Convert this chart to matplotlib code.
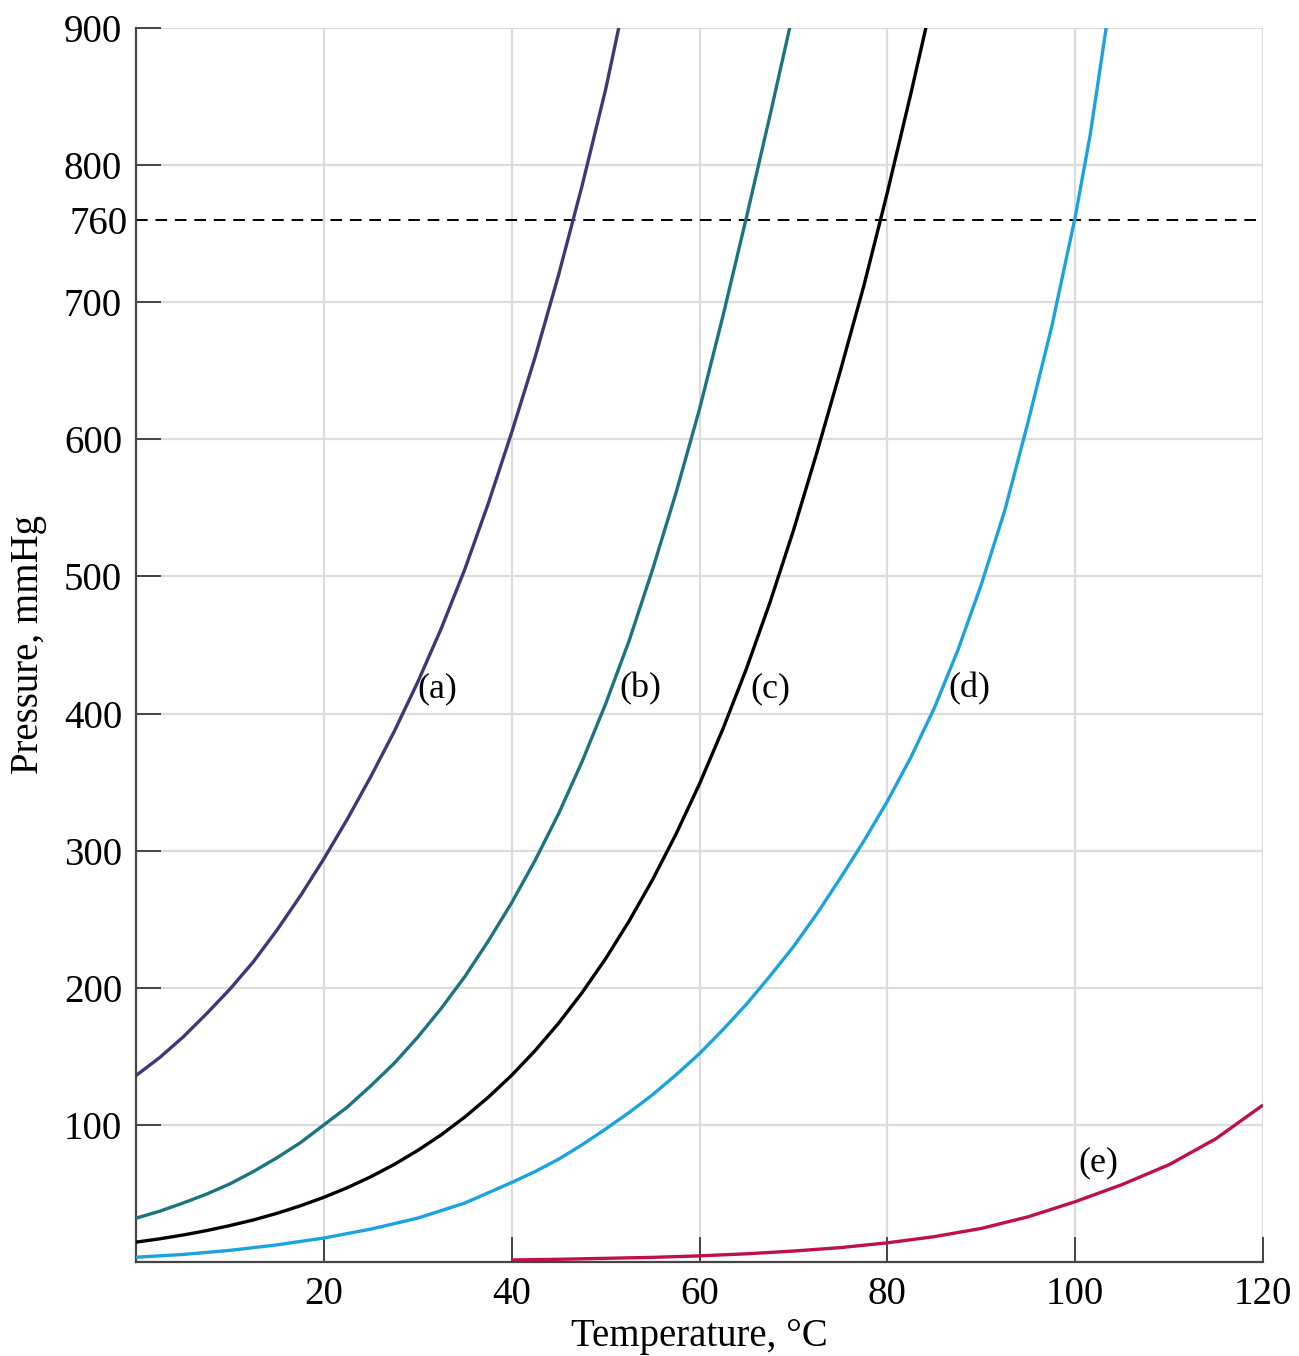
"""Vapor pressure curves (a)-(e), redrawn from the textbook figure."""
import matplotlib
matplotlib.use("Agg")
import matplotlib.pyplot as plt

# --- data (T in degC, P in mmHg) ---
temp_a = [0, 2.5, 5, 7.5, 10, 12.5, 15, 17.5, 20, 22.5, 25, 27.5, 30, 32.5,
          35, 37.5, 40, 42.5, 45, 47.5, 50, 51.4]
pres_a = [136, 149, 164, 181, 199, 219, 242, 267, 294, 323, 354, 387, 423,
          462, 505, 553, 605, 660, 720, 785, 855, 900]

temp_b = [0, 2.5, 5, 7.5, 10, 12.5, 15, 17.5, 20, 22.5, 25, 27.5, 30, 32.5,
          35, 37.5, 40, 42.5, 45, 47.5, 50, 52.5, 55, 57.5, 60, 62.5, 65,
          67.5, 69.6]
pres_b = [32, 37, 43, 49.5, 57, 66, 76, 87, 100, 113, 128.5, 145, 164, 185,
          208, 234, 262, 293, 327, 365, 407, 453, 505, 561, 622, 690, 762,
          836, 900]

temp_c = [0, 2.5, 5, 7.5, 10, 12.5, 15, 17.5, 20, 22.5, 25, 27.5, 30, 32.5,
          35, 37.5, 40, 42.5, 45, 47.5, 50, 52.5, 55, 57.5, 60, 62.5, 65,
          67.5, 70, 72.5, 75, 77.5, 80, 82.5, 84.1]
pres_c = [14.5, 16.9, 19.7, 22.9, 26.6, 30.7, 35.5, 41, 47.2, 54.2, 62.2,
          71.2, 81.4, 92.8, 105.7, 120.1, 136.2, 154.2, 174.2, 196.5, 221.2,
          248.6, 278.8, 312.1, 348.7, 388.9, 432.8, 481, 533.5, 590.4, 650,
          712, 780, 852, 900]

temp_d = [0, 5, 10, 15, 20, 25, 30, 35, 40, 42.5, 45, 47.5, 50, 52.5, 55,
          57.5, 60, 62.5, 65, 67.5, 70, 72.5, 75, 77.5, 80, 82.5, 85, 87.5,
          90, 92.5, 95, 97.5, 100, 101.6, 103.3]
pres_d = [3.5, 5.5, 8.5, 12.5, 17.5, 24, 32, 43, 58, 66, 75, 85.5, 97, 109,
          122, 136.5, 152, 169.5, 188, 208.5, 230, 254, 280, 307, 336, 368,
          404, 446, 494, 548, 613, 682, 762, 822, 900]

temp_e = [40, 45, 50, 55, 60, 65, 70, 75, 80, 85, 90, 95, 100, 105, 110, 115,
          120]
pres_e = [1.5, 2, 2.7, 3.4, 4.5, 6, 8, 10.5, 14, 18.5, 24.5, 33, 44, 56.5, 71,
          90, 114.5]

labels = ["(a)", "(b)", "(c)", "(d)", "(e)"]
label_x = [30, 51.5, 65.4, 86.5, 100.3]
label_y = [418, 418, 418, 418, 72]
colors = ["#3d3878", "#1b7480", "#000000", "#1aa3df", "#c0104a"]

x_ticks = [20, 40, 60, 80, 100, 120]
y_ticks = [100, 200, 300, 400, 500, 600, 700, 800, 900]
p_atm = 760

plt.rcParams["font.family"] = ["Liberation Serif", "DejaVu Serif"]

fig = plt.figure(figsize=(12.99, 13.56), dpi=100)
ax = fig.add_axes([0.1047, 0.0693, 0.8676, 0.9101])

series = [(temp_a, pres_a), (temp_b, pres_b), (temp_c, pres_c),
          (temp_d, pres_d), (temp_e, pres_e)]
for (t, p), c in zip(series, colors):
    ax.plot(t, p, color=c, lw=2.4, solid_joinstyle="round",
            solid_capstyle="butt", zorder=3)

for txt, tx, ty in zip(labels, label_x, label_y):
    ax.text(tx, ty, txt, fontsize=26, ha="left", va="center", zorder=4)

# 1 atm reference line
ax.axhline(p_atm, color="black", lw=1.4, dashes=(6, 4), zorder=2)

ax.set_xlim(0, 120)
ax.set_ylim(0, 900)
ax.set_xticks(x_ticks)
ax.set_yticks(y_ticks)
ax.set_yticks([p_atm], minor=True)
ax.set_yticklabels([str(p_atm)], minor=True)
ax.tick_params(which="major", direction="in", length=18, width=1.4,
               color="#444444", labelsize=28, pad=10)
ax.tick_params(axis="y", which="minor", length=0, labelsize=28, pad=6)
ax.tick_params(axis="x", which="minor", bottom=False)

ax.grid(True, which="major", color="#dcdcdc", lw=1.6, zorder=0)
ax.set_axisbelow(True)

for side in ("top", "right"):
    ax.spines[side].set_visible(False)
for side in ("left", "bottom"):
    ax.spines[side].set_color("#444444")
    ax.spines[side].set_linewidth(1.6)

ax.set_xlabel("Temperature, °C", fontsize=28, labelpad=4)
ax.set_ylabel("Pressure, mmHg", fontsize=28, labelpad=12)

fig.savefig("out.png", dpi=100)
